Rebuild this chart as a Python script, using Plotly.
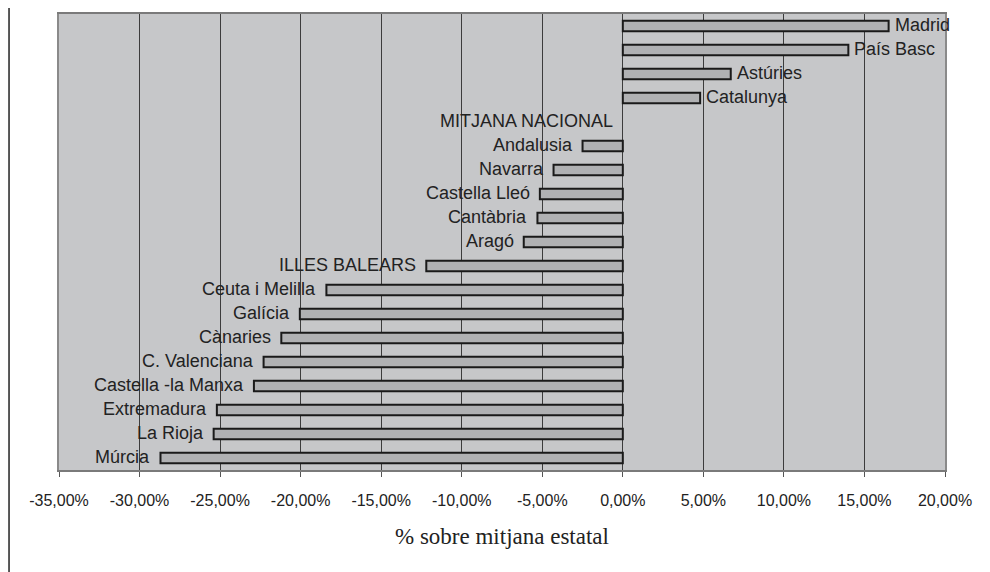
import plotly.graph_objects as go

regions = [
    "Madrid", "País Basc", "Astúries", "Catalunya", "MITJANA NACIONAL",
    "Andalusia", "Navarra", "Castella Lleó", "Cantàbria", "Aragó",
    "ILLES BALEARS", "Ceuta i Melilla", "Galícia", "Cànaries", "C. Valenciana",
    "Castella -la Manxa", "Extremadura", "La Rioja", "Múrcia",
]
pct_vs_mean = [
    16.5, 14.0, 6.7, 4.8, 0.0,
    -2.5, -4.3, -5.15, -5.3, -6.15,
    -12.2, -18.4, -20.05, -21.2, -22.3,
    -22.9, -25.2, -25.4, -28.7,
]
tick_values = [-35, -30, -25, -20, -15, -10, -5, 0, 5, 10, 15, 20]
tick_labels = ["-35,00%", "-30,00%", "-25,00%", "-20,00%", "-15,00%", "-10,00%",
               "-5,00%", "0,00%", "5,00%", "10,00%", "15,00%", "20,00%"]

# the national mean row has no bar, only its label
bar_values = [v if v != 0 else None for v in pct_vs_mean]

fig = go.Figure(
    go.Bar(
        x=bar_values,
        y=regions,
        orientation="h",
        width=0.43,
        marker=dict(color="#b0b1b3", line=dict(color="#1a1a1a", width=2)),
        hoverinfo="x+y",
    )
)

for name, value in zip(regions, pct_vs_mean):
    positive = value > 0
    fig.add_annotation(
        x=value,
        y=name,
        text=name,
        showarrow=False,
        xanchor="left" if positive else "right",
        yanchor="middle",
        xshift=4 if positive else -8,
        yshift=1,
        font=dict(family="Liberation Sans, Arial, sans-serif", size=18, color="#222222"),
    )

fig.add_annotation(
    x=0.5, y=-0.146, xref="paper", yref="paper",
    text="% sobre mitjana estatal",
    showarrow=False,
    xanchor="center", yanchor="middle",
    font=dict(family="Liberation Serif, Times New Roman, serif", size=23, color="#222222"),
)

# thin frame line at the far left of the page
fig.add_shape(
    type="line", xref="paper", yref="paper",
    x0=-0.0564, x1=-0.0564, y0=-0.3, y1=1.1,
    line=dict(color="#222222", width=1.5),
)

# the page has an 8px body margin, so margins are trimmed to land the plot area
fig.update_layout(
    width=990,
    height=572,
    margin=dict(l=51, r=53, t=4, b=110),
    paper_bgcolor="white",
    plot_bgcolor="#c6c7c9",
    showlegend=False,
)
fig.update_xaxes(
    range=[-35, 20],
    tickvals=tick_values,
    ticktext=tick_labels,
    showgrid=True,
    gridcolor="#3c3c3c",
    gridwidth=1,
    zeroline=True,
    zerolinecolor="#3c3c3c",
    zerolinewidth=1,
    showline=True,
    linecolor="#7a7a7a",
    linewidth=2,
    mirror=True,
    ticks="outside",
    ticklen=5,
    tickcolor="#555555",
    ticklabelstandoff=10,
    tickfont=dict(family="Liberation Sans, Arial, sans-serif", size=16, color="#222222"),
)
fig.update_yaxes(
    range=[len(regions) - 0.5, -0.5],
    showticklabels=False,
    showgrid=False,
    showline=True,
    linecolor="#8a8a8a",
    linewidth=2,
    mirror=True,
    ticks="",
)

fig.write_html("out.html")
